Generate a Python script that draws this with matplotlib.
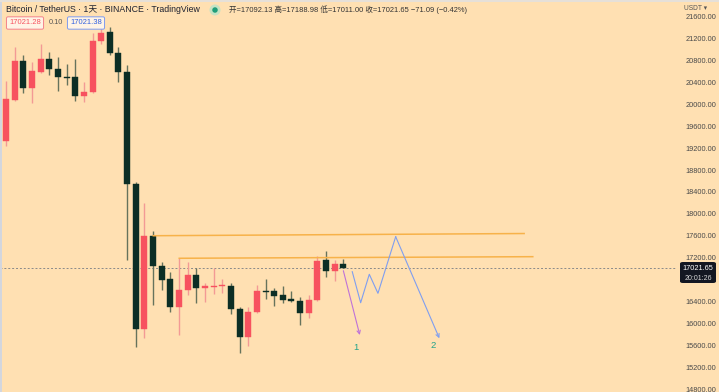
import matplotlib
matplotlib.use("Agg")
import matplotlib.pyplot as plt
from matplotlib.patches import Rectangle, FancyBboxPatch, Ellipse

# ---------------- data ----------------
opens  = [19333, 20073, 20782, 20296, 20587, 20824, 20630, 20497, 20485, 20151,
          20213, 21151, 21315, 20922, 20587, 18545, 15904, 17600, 17060, 16813,
          16315, 16618, 16891, 16649, 16678, 16690, 16696, 16273, 15769, 16224,
          16600, 16600, 16521, 16455, 16424, 16206, 16436, 17164, 16969, 17092.13]
highs  = [20424, 21042, 20891, 20758, 21091, 20940, 20849, 20722, 20812, 20394,
          21296, 21382, 21400, 21042, 20709, 18587, 18194, 17691, 17122, 16951,
          17194, 17133, 17013, 16751, 17013, 16818, 16740, 16315, 16315, 16709,
          16813, 16660, 16696, 16600, 16485, 16527, 17242, 17333, 17164, 17188.98]
lows   = [19242, 20060, 20206, 20013, 20569, 20527, 20242, 20345, 20060, 20042,
          20200, 21091, 20900, 20394, 17164, 15587, 15740, 16345, 16618, 16224,
          15800, 16527, 16376, 16405, 16545, 16558, 16182, 15478, 15605, 16194,
          16449, 16333, 16387, 16394, 15982, 16103, 16424, 16849, 16787, 17011.00]
closes = [20091, 20782, 20296, 20600, 20824, 20630, 20497, 20478, 20151, 20213,
          21151, 21285, 20922, 20587, 18545, 15904, 17600, 17060, 16800, 16315,
          16618, 16891, 16649, 16691, 16696, 16700, 16273, 15769, 16224, 16600,
          16582, 16515, 16442, 16418, 16206, 16436, 17151, 16969, 17085, 17021.65]

price_ticks = [21600, 21200, 20800, 20400, 20000, 19600, 19200, 18800, 18400,
               18000, 17600, 17200, 16800, 16400, 16000, 15600, 15200, 14800]
last_price = 17021.65
countdown = "20:01:26"

# horizontal (slightly sloped) levels: (start idx, start price, end idx, end price)
level_lines = [(17.03, 17605, 59.9, 17645),
               (20.03, 17195, 60.9, 17224)]
# projected paths
path1_x = [39.0, 40.9]
path1_y = [16969, 15800]
path2_x = [40.03, 41.0, 42.0, 43.0, 45.05, 50.1]
path2_y = [16951, 16387, 16904, 16558, 17587, 15740]
path_labels = [("1", 40.4, 15569), ("2", 49.4, 15600)]

title = "Bitcoin / TetherUS · 1天 · BINANCE · TradingView"
ohlc_text = "开=17092.13 高=17188.98 低=17011.00 收=17021.65 −71.09 (−0.42%)"

# ---------------- style ----------------
BG = "#ffe0b2"
UP = "#f7525f"
DOWN = "#0c2e25"
UP_WICK = "#f39a95"
DOWN_WICK = "#66735c"
FONT = ["Liberation Sans", "Noto Sans CJK SC", "DejaVu Sans"]
plt.rcParams["font.family"] = FONT

W, H = 719, 392
fig = plt.figure(figsize=(W / 100, H / 100), dpi=100, facecolor=BG)
plot_right = 676
ax = fig.add_axes([0, 0, plot_right / W, 1])
ax.set_facecolor(BG)

# pixel mapping: x = 6 + 8.65*i ; y_px = 38 + (21200 - p)*0.055
x0, dx = 6.0, 8.65
ax.set_xlim(-x0 / dx, (plot_right - x0) / dx)
ppu = 0.055
ax.set_ylim(21200 - (H - 38) / ppu, 21200 + 38 / ppu)

for s in ax.spines.values():
    s.set_visible(False)
ax.set_xticks([])
ax.yaxis.tick_right()
ax.set_yticks(price_ticks)
ax.set_yticklabels([f"{p:.2f}" for p in price_ticks])
ax.tick_params(axis="y", length=0, pad=7, labelsize=5.3, labelcolor="#4a4a4a")

bw = 6.0 / dx
min_body = 1.0 / ppu
for i, (o, h, l, c) in enumerate(zip(opens, highs, lows, closes)):
    up = c >= o
    col = UP if up else DOWN
    wcol = UP_WICK if up else DOWN_WICK
    ax.vlines(i, l, h, color=wcol, lw=1.0, zorder=2)
    bottom = min(o, c)
    height = max(abs(c - o), min_body)
    ax.add_patch(Rectangle((i - bw / 2, bottom), bw, height, facecolor=col,
                           edgecolor=col, lw=0.3, zorder=3))

# last price dashed line
ax.axhline(last_price, color="#8a8a8a", lw=0.7, ls=(0, (2, 2)), zorder=1)

# level lines
for xs, ys, xe, ye in level_lines:
    ax.plot([xs, xe], [ys, ye], color="#f7b24a", lw=1.1, zorder=4)

# projections
ax.annotate("", xy=(path1_x[1], path1_y[1]), xytext=(path1_x[0], path1_y[0]),
            arrowprops=dict(arrowstyle="->", color="#bf72d8", lw=0.8,
                            mutation_scale=6, shrinkA=0, shrinkB=0), zorder=5)
ax.plot(path2_x[:-1], path2_y[:-1], color="#7f9ef0", lw=0.8, zorder=5)
ax.annotate("", xy=(path2_x[-1], path2_y[-1]), xytext=(path2_x[-2], path2_y[-2]),
            arrowprops=dict(arrowstyle="->", color="#7f9ef0", lw=0.8,
                            mutation_scale=6, shrinkA=0, shrinkB=0), zorder=5)
for t, xi, yi in path_labels:
    ax.text(xi, yi, t, color="#22a38a", fontsize=6.8, ha="center", va="center")

# ---------------- header ----------------
fig.text(6 / W, 1 - 10 / H, title, fontsize=6.3, color="#1e2230",
         ha="left", va="center")
fig.patches.append(Ellipse((215 / W, 1 - 10 / H), 11 / W, 11 / H, transform=fig.transFigure,
                           facecolor="#c6e3c4", edgecolor="none"))
fig.patches.append(Ellipse((215 / W, 1 - 10 / H), 5.5 / W, 5.5 / H, transform=fig.transFigure,
                           facecolor="#1f9e7a", edgecolor="none"))
fig.text(229 / W, 1 - 10 / H, ohlc_text, fontsize=5.4, color="#333333",
         ha="left", va="center")

fig.text(25 / W, 1 - 23 / H, "17021.28", fontsize=5.5, color=UP, ha="center", va="center",
         bbox=dict(boxstyle="round,pad=0.35,rounding_size=0.2", fc="#fff4e6", ec="#f3828a", lw=0.7))
fig.text(56 / W, 1 - 23 / H, "0.10", fontsize=5.3, color="#555555", ha="center", va="center")
fig.text(86 / W, 1 - 23 / H, "17021.38", fontsize=5.5, color="#2f5fe0", ha="center", va="center",
         bbox=dict(boxstyle="round,pad=0.35,rounding_size=0.2", fc="#fff4e6", ec="#7d9bf0", lw=0.7))

# axis header
fig.text(684 / W, 1 - 8 / H, "USDT ▾", fontsize=4.8, color="#555555", ha="left", va="center",
         family=["Liberation Sans", "DejaVu Sans"])

# last price label
fig.patches.append(FancyBboxPatch((680 / W, 1 - 283 / H), 36 / W, 21 / H,
                                  boxstyle="round,pad=0,rounding_size=0.004",
                                  transform=fig.transFigure, facecolor="#131722",
                                  edgecolor="none", zorder=10))
fig.text(698 / W, 1 - 268 / H, f"{last_price:.2f}", fontsize=5.3, color="white",
         ha="center", va="center", zorder=11)
fig.text(698 / W, 1 - 278 / H, countdown, fontsize=5.0, color="#d8d8d8",
         ha="center", va="center", zorder=11)

# thin frame lines at left/top
fig.patches.append(Rectangle((0, 0), 1.5 / W, 1, transform=fig.transFigure,
                             facecolor="#d3d6de", edgecolor="none", zorder=12))
fig.patches.append(Rectangle((0, 1 - 1.5 / H), 1, 1.5 / H, transform=fig.transFigure,
                             facecolor="#e6e0d8", edgecolor="none", zorder=12))

fig.savefig("out.png", dpi=100, facecolor=BG)
